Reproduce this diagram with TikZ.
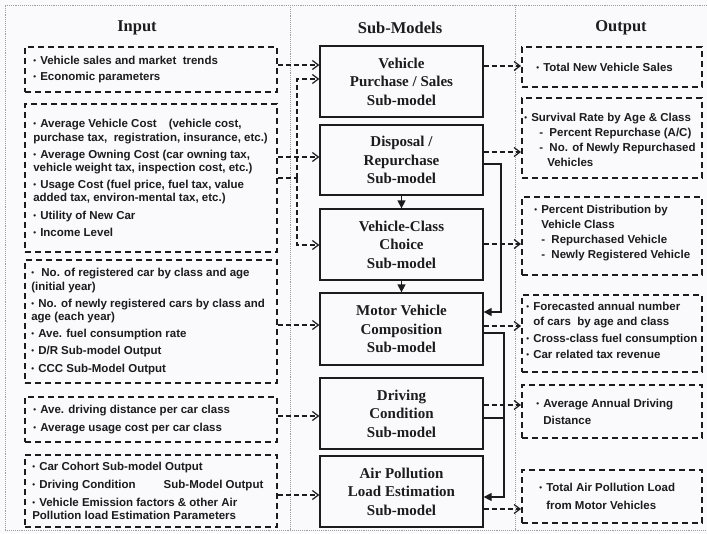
\documentclass[tikz,border=0pt]{standalone}
\usepackage{fontspec}
\setmainfont{Liberation Serif}
\newfontfamily\arialf{Liberation Sans}
\usetikzlibrary{arrows.meta}
\definecolor{bgc}{RGB}{250,249,251}
\definecolor{ink}{RGB}{28,28,28}
\newcommand\bul{\makebox[7pt][l]{\raisebox{0.08em}{\fontsize{8}{8}\selectfont\textbullet}}}
\newcommand\ind{\hspace*{7pt}}
\begin{document}
\begin{tikzpicture}[x=1pt,y=-1pt,
  frame/.style={gray!75, line width=0.9pt, densely dotted},
  dbox/.style={draw=ink, line width=1.9pt, dash pattern=on 6pt off 4pt, rectangle, inner sep=0pt},
  sbox/.style={draw=ink, line width=1.3pt, rectangle, inner sep=0pt, minimum width=163pt, align=center, text=ink, font=\bfseries\fontsize{15}{18.5}\selectfont},
  txt/.style={inner sep=0pt, anchor=west, align=left, text=ink, font=\arialf\bfseries\fontsize{11.5}{13.2}\selectfont},
  otxt/.style={txt, font=\arialf\bfseries\fontsize{11.5}{15}\selectfont},
  head/.style={text=ink, font=\bfseries\fontsize{16.5}{18}\selectfont},
  dcon/.style={draw=ink, line width=1.2pt, dash pattern=on 5pt off 3pt, -{Straight Barb[length=6pt,width=9pt,line width=1.2pt]}},
  dseg/.style={draw=ink, line width=1.2pt, dash pattern=on 5pt off 3pt},
  scon/.style={draw=ink, line width=1.3pt, -{Triangle[length=8pt,width=8pt]}},
  sseg/.style={draw=ink, line width=1.3pt},
]
\useasboundingbox[fill=bgc] (0,0) rectangle (707,533);
% frame
\draw[frame] (707,5) -- (5,5) -- (5,530) -- (707,530);
\draw[frame] (290,5) -- (290,530);
\draw[frame] (515,5) -- (515,530);
% headers
\node[head] (hin) at (137,28) {Input};
\node[head] (hsub) at (400,28) {Sub-Models};
\node[head] (hout) at (621,28) {Output};
% input boxes
\node[dbox, minimum width=252pt, minimum height=45pt] (b1) at (151,69.5) {};
\node[dbox, minimum width=252pt, minimum height=148pt] (b2) at (151,178) {};
\node[dbox, minimum width=252pt, minimum height=123pt] (b3) at (151,321.5) {};
\node[dbox, minimum width=252pt, minimum height=45pt] (b4) at (151,419.5) {};
\node[dbox, minimum width=252pt, minimum height=72pt] (b5) at (151,491) {};
\node[txt] (t1) at ([xshift=9pt]b1.west) {\bul Vehicle sales and market\ \ trends\\[3pt]\bul Economic parameters};
\node[txt] (t2) at ([xshift=9pt]b2.west) {\bul Average Vehicle Cost\hspace{12pt}(vehicle cost,\\
purchase tax,\ \ registration, insurance, etc.)\\[4pt]
\bul Average Owning Cost (car owning tax,\\
vehicle weight tax, inspection cost, etc.)\\[4pt]
\bul Usage Cost (fuel price, fuel tax, value\\
added tax, environ-mental tax, etc.)\\[4pt]
\bul Utility of New Car\\[4pt]
\bul Income Level};
\node[txt] (t3) at ([xshift=7pt]b3.west) {\bul\ No. of registered car by class and age\\
(initial year)\\[4pt]
\bul No. of newly registered cars by class and\\
age (each year)\\[4pt]
\bul Ave. fuel consumption rate\\[4pt]
\bul D/R Sub-model Output\\[4pt]
\bul CCC Sub-Model Output};
\node[txt] (t4) at ([xshift=9pt]b4.west) {\bul Ave. driving distance per car class\\[4pt]\bul Average usage cost per car class};
\node[txt] (t5) at ([xshift=8pt]b5.west) {\bul Car Cohort Sub-model Output\\[4.5pt]
\bul Driving Condition\hspace{28pt}Sub-Model Output\\[4.5pt]
\bul Vehicle Emission factors \& other Air\\
Pollution load Estimation Parameters};
% sub-models
\node[sbox, minimum height=71pt] (s1) at (401.5,81.5) {Vehicle\\Purchase / Sales\\Sub-model};
\node[sbox, minimum height=70pt] (s2) at (401.5,160) {Disposal /\\Repurchase\\Sub-model};
\node[sbox, minimum height=71pt] (s3) at (401.5,244.5) {Vehicle-Class\\Choice\\Sub-model};
\node[sbox, minimum height=72pt] (s4) at (401.5,329) {Motor Vehicle\\Composition\\Sub-model};
\node[sbox, minimum height=71pt] (s5) at (401.5,413.5) {Driving\\Condition\\Sub-model};
\node[sbox, minimum height=71pt] (s6) at (401.5,491.5) {Air Pollution\\Load Estimation\\Sub-model};
% output boxes
\node[dbox, minimum width=180pt, minimum height=40pt] (o1) at (612,67) {};
\node[dbox, minimum width=180pt, minimum height=80pt] (o2) at (612,138) {};
\node[dbox, minimum width=180pt, minimum height=78pt] (o3) at (612,236) {};
\node[dbox, minimum width=180pt, minimum height=77pt] (o4) at (612,333.5) {};
\node[dbox, minimum width=180pt, minimum height=53pt] (o5) at (612,411.5) {};
\node[dbox, minimum width=180pt, minimum height=53pt] (o6) at (612,496.5) {};
\node[otxt] (u1) at ([xshift=15pt]o1.west) {\bul Total New Vehicle Sales};
\node[otxt, yshift=-2pt] (u2) at ([xshift=3pt]o2.west) {\bul Survival Rate by Age \& Class\\
\hspace*{15pt}-\ \ Percent Repurchase (A/C)\\
\hspace*{15pt}-\ \ No. of Newly Repurchased\\
\hspace*{23pt}Vehicles};
\node[otxt, yshift=3pt] (u3) at ([xshift=13pt]o3.west) {\bul Percent Distribution by\\
\ind Vehicle Class\\
\hspace*{7pt}-\ \ Repurchased Vehicle\\
\hspace*{7pt}-\ \ Newly Registered Vehicle};
\node[otxt, yshift=3pt] (u4) at ([xshift=5pt]o4.west) {\bul Forecasted annual number\\
\ind of cars\ \ by age and class\\[1.5pt]
\bul Cross-class fuel consumption\\[1.5pt]
\bul Car related tax revenue};
\node[otxt] (u5) at ([xshift=15pt]o5.west) {\bul Average Annual Driving\\[2pt]\ind Distance};
\node[otxt] (u6) at ([xshift=18pt]o6.west) {\bul Total Air Pollution Load\\[3pt]\ind from Motor Vehicles};
% left connectors
\coordinate (j1) at (297,178);
\draw[dcon] (b1.east |- 0,65) -- (s1.west |- 0,65);
\draw[dseg] (b2.east |- j1) -- (j1);
\draw[dcon] (j1) |- (s1.west |- 0,79);
\draw[dcon] (j1) |- (s3.west |- 0,245);
\draw[dcon] (b2.east |- 0,157) -- (s2.west |- 0,157);
\draw[dcon] (b3.east |- 0,325) -- (s4.west |- 0,325);
\draw[dcon] (b4.east |- 0,416) -- (s5.west |- 0,416);
\draw[dcon] (b5.east |- 0,495) -- (s6.west |- 0,495);
% vertical arrows
\draw[scon] (s2.south) -- (s3.north);
\draw[scon] (s3.south) -- (s4.north);
% right solid
\coordinate (r1) at (501,164);
\coordinate (r2) at (504,333);
\draw[scon] (s2.east |- r1) -- (r1) |- (s4.east |- 0,312);
\draw[scon] (s4.east |- r2) -- (r2) |- (s6.east |- 0,497);
\draw[sseg] (s5.east |- 0,418) -- (r2 |- 0,418);
% right dashed
\draw[dcon] (s1.east |- 0,66) -- (o1.west |- 0,66);
\draw[dcon] (s2.east |- 0,152) -- (o2.west |- 0,152);
\draw[dcon] (s3.east |- 0,244) -- (o3.west |- 0,244);
\draw[dcon] (s4.east |- 0,326) -- (o4.west |- 0,326);
\draw[dcon] (s5.east |- 0,405) -- (o5.west |- 0,405);
\draw[dcon] (s6.east |- 0,509) -- (o6.west |- 0,509);
\end{tikzpicture}
\end{document}
